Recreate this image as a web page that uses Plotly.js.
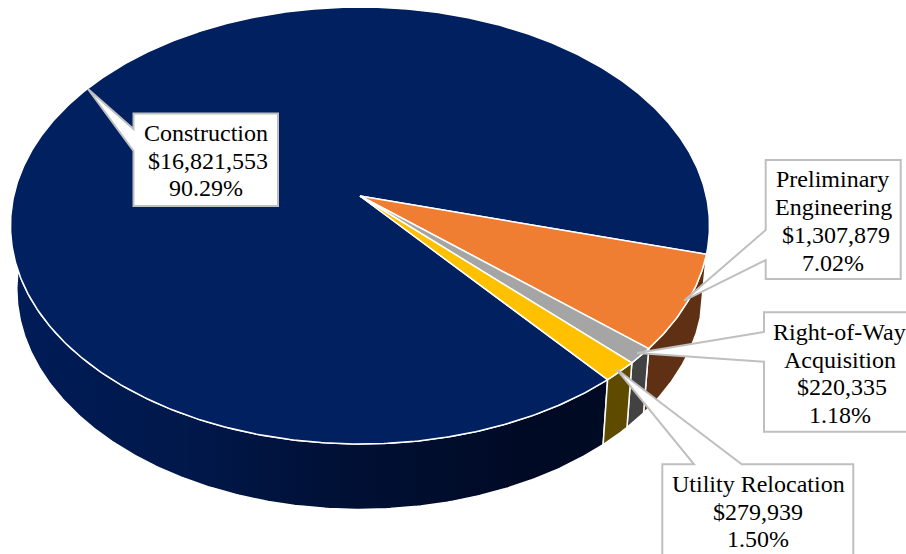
<!DOCTYPE html>
<html>
<head>
<meta charset="utf-8">
<script src="https://cdn.plot.ly/plotly-3.0.1.min.js"></script>
<style>html,body{margin:0;padding:0;background:#fff}#c{width:906px;height:554px}</style>
</head>
<body>
<div id="c"></div>
<script>
// ---- data ----
const categories = ["Preliminary Engineering", "Right-of-Way Acquisition", "Utility Relocation", "Construction"];
const values = [1307879, 220335, 279939, 16821553];
const topColors = ["#F07E32", "#A5A5A5", "#FFC000", "#002060"];
const wallColors = ["#5F3013", "#424242", "#5F4B00", "#001A50"];
const labelLines = [["Preliminary", "Engineering"], ["Right-of-Way", "Acquisition"], ["Utility Relocation"], ["Construction"]];

// ---- 3D pie projection ----
const firstAngle = 15.2, cx = 360, cy = 196, k = 0.135, A = 346.3, B = 214.5;
const wallDx = 0.982, wallDy = 1.01, wallShift = 63;
function proj(deg, bottom, r) {
  const t = deg * Math.PI / 180, rr = r === undefined ? 1 : r;
  const u = rr * Math.cos(t), v = rr * Math.sin(t), w = 1 - k * v;
  let X = A * u / w, Y = B * v / w;
  if (bottom) { X *= wallDx; Y = wallShift + wallDy * Y; }
  return [cx + X, cy + Y];
}
function arc(a0, a1, bottom) {
  const n = Math.max(2, Math.ceil(Math.abs(a1 - a0) / 0.5)), pts = [];
  for (let i = 0; i <= n; i++) pts.push(proj(a0 + (a1 - a0) * i / n, bottom));
  return pts;
}
const total = values.reduce((a, b) => a + b, 0);
let ang = firstAngle;
const spans = values.map(v => { const s = [ang, ang + v / total * 360]; ang = s[1]; return s; });

const traces = [];
function poly(pts, extra) {
  traces.push(Object.assign({
    type: "scatter", mode: "lines", fill: "toself", hoverinfo: "skip", showlegend: false,
    x: pts.map(p => p[0]), y: pts.map(p => p[1]),
    line: { color: "#FFFFFF", width: 1.5 }
  }, extra));
}
// side walls first, construction at the back
[3, 0, 1, 2].forEach(i => {
  const [a0, a1] = spans[i];
  const pts = arc(a0, a1, false).concat(arc(a1, a0, true));
  pts.push(pts[0]);
  const extra = { name: categories[i] + " wall", fillcolor: wallColors[i] };
  if (i === 3) {
    extra.fillgradient = {
      type: "horizontal",
      colorscale: [[0, "#001C58"], [0.25, "#00184A"], [0.5, "#000F33"], [0.75, "#000A24"], [1, "#000A22"]]
    };
  }
  poly(pts, extra);
});
// top faces
[3, 0, 1, 2].forEach(i => {
  const [a0, a1] = spans[i];
  const pts = [[cx, cy]].concat(arc(a0, a1, false));
  pts.push([cx, cy]);
  poly(pts, { name: categories[i], fillcolor: topColors[i] });
});

// ---- callouts (box plus pointer) ----
const callouts = [
  { path: "M133.5,113.5 H278 V206 H133.5 V151 L88,89 L133.5,129 Z", x: [205.7, 208, 205.7], y: [133, 160.7, 188] },
  { path: "M765.7,160 H900.7 V279 H765.7 V260 L684,300.7 L765.7,230 Z", x: [832.7, 833, 836, 832.7], y: [179, 207, 235, 262.7] },
  { path: "M764,312.3 H916 V431.7 H764 V361.7 L637,353 L764,332 Z", x: [839, 840, 841.7, 840], y: [331.7, 360, 386.7, 415] },
  { path: "M662.3,464.3 H694 L616.7,369.3 L741.7,464.3 H853.3 V590 H662.3 Z", x: [758, 758, 758], y: [484, 511.7, 539.3] }
];
const order = [3, 0, 1, 2];
const shapes = [], annotations = [];
order.forEach((i, n) => {
  const c = callouts[n];
  shapes.push({ type: "path", xref: "x", yref: "y", layer: "above", path: c.path, fillcolor: "#FFFFFF", line: { color: "#BFBFBF", width: 2 } });
  const lines = labelLines[i].concat(["$" + values[i].toLocaleString("en-US"), (values[i] / total * 100).toFixed(2) + "%"]);
  lines.forEach((t, j) => annotations.push({
    xref: "x", yref: "y", x: c.x[j], y: c.y[j], text: t, showarrow: false,
    xanchor: "center", yanchor: "middle",
    font: { family: "Liberation Serif", size: 24, color: "#000000" }
  }));
});

Plotly.newPlot("c", traces, {
  width: 906, height: 554, margin: { l: 0, r: 0, t: 0, b: 0 },
  paper_bgcolor: "#FFFFFF", plot_bgcolor: "#FFFFFF", showlegend: false,
  xaxis: { visible: false, range: [0, 906], fixedrange: true },
  yaxis: { visible: false, range: [554, 0], fixedrange: true },
  shapes: shapes, annotations: annotations
}, { displayModeBar: false, staticPlot: true });
</script>
</body>
</html>
